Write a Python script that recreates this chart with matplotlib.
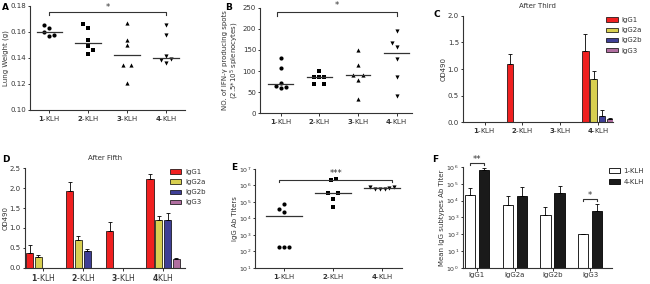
import matplotlib.pyplot as plt
import numpy as np

plt.rcParams['font.family'] = ['DejaVu Sans']
plt.rcParams['font.size'] = 5
plt.rcParams['text.color'] = '#333333'
plt.rcParams['axes.labelcolor'] = '#333333'
plt.rcParams['xtick.color'] = '#333333'
plt.rcParams['ytick.color'] = '#333333'
plt.rcParams['axes.edgecolor'] = '#333333'
plt.rcParams['axes.linewidth'] = 0.8

# data
groups4 = ['1', '2', '3', '4']
groups3 = ['1', '2', '4']
lung = [
    [0.165, 0.163, 0.160, 0.157, 0.158],
    [0.166, 0.163, 0.154, 0.149, 0.146, 0.143],
    [0.167, 0.154, 0.150, 0.1346, 0.1346, 0.1205],
    [0.165, 0.158, 0.1415, 0.1385, 0.139, 0.1364],
]
spots = [
    [132, 106, 72, 64, 60, 61],
    [101, 85, 85, 85, 70, 70],
    [150, 114, 89.5, 89.5, 78, 34],
    [194, 166, 158, 128, 86, 41],
]
subtypes = ['IgG1', 'IgG2a', 'IgG2b', 'IgG3']
third_mean = [[0, 1.10, 0, 1.33], [0, 0, 0, 0.81], [0, 0, 0, 0.12], [0, 0, 0, 0.05]]
third_err = [[0, 0.19, 0, 0.32], [0, 0, 0, 0.16], [0, 0, 0, 0.10], [0, 0, 0, 0.03]]
fifth_mean = [[0.37, 1.93, 0.92, 2.22], [0.28, 0.71, 0, 1.20],
              [0, 0.42, 0, 1.21], [0, 0, 0, 0.22]]
fifth_err = [[0.19, 0.21, 0.22, 0.13], [0.04, 0.10, 0, 0.09],
             [0, 0.06, 0, 0.17], [0, 0, 0, 0.02]]
titer_log = [
    [4.87, 4.58, 4.41, 2.26, 2.26, 2.26],
    [6.34, 6.38, 5.55, 5.55, 5.18, 4.68],
    [5.90, 5.76, 5.76, 5.80, 5.85, 5.92],
]
titer_line_log = [4.12, 5.55, 5.86]
f_groups = ['1-KLH', '4-KLH']
f_mean_log = [[4.34, 3.74, 3.13, 2.0], [5.81, 4.30, 4.45, 3.40]]
f_top_log = [[4.75, 4.26, 3.62, 2.0], [5.92, 4.81, 4.87, 3.77]]

# jitter for dot plots
jit_a = [[-0.13, 0, -0.13, 0, 0.13], [-0.13, 0, 0, 0, 0.13, 0],
         [0, 0, 0, -0.1, 0.1, 0], [0, 0, 0, -0.13, 0.13, 0]]
jit_b = [[0, 0, 0, -0.13, 0, 0.13], [0, -0.13, 0, 0.13, -0.13, 0.13],
         [0, 0, -0.13, 0.13, 0, 0], [0, -0.13, 0, 0, 0, 0]]
jit_e = [[0, -0.11, 0, -0.11, 0, 0.1], [-0.05, 0.05, -0.1, 0.1, 0, 0],
         [-0.25, -0.15, -0.05, 0.05, 0.15, 0.25]]
markers = ['o', 's', '^', 'v']
bar_colors = ['#f02020', '#d8cf50', '#3f3f96', '#b06ea0']


def kl_labels(ax, labs):
    ax.set_xticklabels([r'$\mathbf{%s}$-KLH' % l for l in labs], fontsize=5.5)


def style(ax):
    for s in ['top', 'right']:
        ax.spines[s].set_visible(False)
    ax.tick_params(length=1.8, width=0.7, pad=1, labelsize=5)


def bracket(ax, x0, x1, y, h, txt, ty):
    ax.plot([x0, x0, x1, x1], [y - h, y, y, y - h], color='#333333', lw=0.8, clip_on=False)
    ax.text((x0 + x1) / 2, ty, txt, ha='center', va='center', fontsize=6, clip_on=False)


fig = plt.figure(figsize=(6.5, 2.84), dpi=100)

# A
ax = fig.add_axes([0.046, 0.613, 0.239, 0.366])
for i, vals in enumerate(lung):
    x = i + 1 + np.array(jit_a[i])
    ax.scatter(x, vals, marker=markers[i], s=9, color='black', lw=0)
    ax.plot([i + 1 - 0.33, i + 1 + 0.33], [np.median(vals)] * 2, color='#333333', lw=0.9)
ax.set_xlim(0.5, 4.5)
ax.set_ylim(0.10, 0.18)
ax.set_yticks([0.10, 0.12, 0.14, 0.16, 0.18])
ax.set_xticks(range(1, 5))
kl_labels(ax, groups4)
ax.set_ylabel('Lung Weight (g)', fontsize=5, labelpad=1)
style(ax)
bracket(ax, 1, 4, 0.1752, 0.002, '*', 0.1785)

# B
ax = fig.add_axes([0.400, 0.602, 0.234, 0.370])
for i, vals in enumerate(spots):
    x = i + 1 + np.array(jit_b[i])
    ax.scatter(x, vals, marker=markers[i], s=9, color='black', lw=0)
    ax.plot([i + 1 - 0.32, i + 1 + 0.32], [np.median(vals)] * 2, color='#333333', lw=0.9)
ax.set_xlim(0.46, 4.4)
ax.set_ylim(0, 250)
ax.set_yticks(range(0, 251, 50))
ax.set_xticks(range(1, 5))
kl_labels(ax, groups4)
ax.set_ylabel('NO. of IFN-\u03b3 producing spots\n(2.5*10$^5$ splenocytes)', fontsize=5,
              labelpad=1, linespacing=1.1)
style(ax)
bracket(ax, 0.9, 4, 240, 8, '*', 257)


def od_panel(rect, means, errs, title):
    ax = fig.add_axes(rect)
    xs = np.arange(1, 5)
    w, sp = 0.18, 0.22
    handles = []
    for k in range(4):
        pos = xs + (k - 1.5) * sp
        m = np.array(means[k])
        e = np.array(errs[k])
        b = ax.bar(pos, m, width=w, color=bar_colors[k], edgecolor='black', lw=0.5,
                   label=subtypes[k])
        mask = m > 0
        ax.errorbar(pos[mask], m[mask], yerr=[np.zeros(mask.sum()), e[mask]], fmt='none',
                    ecolor='black', elinewidth=0.6, capsize=1.5, capthick=0.6)
        handles.append(b)
    ax.set_xticks(xs)
    kl_labels(ax, groups4)
    ax.set_ylabel('OD490', fontsize=5, labelpad=1)
    ax.set_title(title, fontsize=5)
    style(ax)
    return ax, handles


leg_kw = dict(loc='upper left', frameon=False, fontsize=5, handlelength=1.6,
              handleheight=0.6, labelspacing=0.6, handletextpad=0.5, borderpad=0,
              borderaxespad=0)

# C
ax, h = od_panel([0.712, 0.570, 0.231, 0.374], third_mean, third_err, 'After Third')
ax.set_xlim(0.42, 4.4)
ax.set_ylim(0, 2.0)
ax.set_yticks([0, 0.5, 1.0, 1.5, 2.0])
ax.title.set_y(1.07)
fig.legend(handles=h, bbox_to_anchor=(0.933, 0.94), **leg_kw)

# D
ax, h = od_panel([0.038, 0.057, 0.247, 0.351], fifth_mean, fifth_err, 'After Fifth')
ax.set_xlim(0.55, 4.55)
ax.set_ylim(0, 2.5)
ax.set_yticks([0, 0.5, 1.0, 1.5, 2.0, 2.5])
ax.set_xticklabels([r'$\mathbf{1}$-KLH', r'$\mathbf{2}$-KLH', r'$\mathbf{3}$-KLH',
                    r'$\mathbf{4}$KLH'], fontsize=5.5)
ax.title.set_y(1.06)
fig.legend(handles=h, bbox_to_anchor=(0.262, 0.405), **leg_kw)

# E
ax = fig.add_axes([0.393, 0.057, 0.225, 0.348])
for i, vals in enumerate(titer_log):
    x = i + 1 + np.array(jit_e[i])
    mk = markers[0] if i == 0 else markers[1] if i == 1 else markers[3]
    ax.scatter(x, 10 ** np.array(vals), marker=mk, s=9, color='black', lw=0)
    ax.plot([i + 1 - 0.37, i + 1 + 0.37], [10 ** titer_line_log[i]] * 2, color='#333333', lw=0.9)
ax.set_yscale('log')
ax.set_ylim(10, 1e7)
ax.set_xlim(0.41, 3.4)
ax.set_xticks([1, 2, 3])
kl_labels(ax, groups3)
ax.minorticks_off()
ax.set_yticks([10 ** k for k in range(1, 8)])
ax.set_ylabel('IgG Ab Titers', fontsize=5, labelpad=1)
style(ax)
ax.tick_params(axis='y', labelsize=4.5)
bracket(ax, 0.9, 3.2, 10 ** 6.34, 10 ** 6.34 - 10 ** 6.2, '***', 10 ** 6.7)

# F
ax = fig.add_axes([0.712, 0.057, 0.230, 0.355])
xs = np.arange(1, 5)
fcol = ['white', '#1a1a1a']
fh = []
for j in range(2):
    pos = xs + (j - 0.5) * 0.37
    m = 10 ** np.array(f_mean_log[j])
    t = 10 ** np.array(f_top_log[j])
    b = ax.bar(pos, m, width=0.27, color=fcol[j], edgecolor='black', lw=0.6,
               label=f_groups[j])
    ax.errorbar(pos, m, yerr=[np.zeros(4), t - m], fmt='none', ecolor='black',
                elinewidth=0.6, capsize=1.5, capthick=0.6)
    fh.append(b)
ax.set_yscale('log')
ax.set_ylim(1, 1e6)
ax.set_xlim(0.63, 4.58)
ax.set_xticks(xs)
ax.set_xticklabels(subtypes, fontsize=5)
ax.minorticks_off()
ax.set_yticks([10 ** k for k in range(0, 7)])
ax.set_ylabel('Mean IgG subtypes Ab Titer', fontsize=5, labelpad=1)
style(ax)
ax.tick_params(axis='y', labelsize=4.5)
bracket(ax, 1 - 0.185, 1 + 0.185, 10 ** 6.22, 10 ** 6.22 - 10 ** 6.1, '**', 10 ** 6.42)
bracket(ax, 4 - 0.185, 4 + 0.185, 10 ** 4.08, 10 ** 4.08 - 10 ** 3.96, '*', 10 ** 4.28)
leg_f = dict(leg_kw)
leg_f.update(handleheight=0.8, labelspacing=0.8)
fig.legend(handles=fh, bbox_to_anchor=(0.937, 0.41), **leg_f)

# panel letters
for lab, x, y in [('A', 0.003, 0.99), ('B', 0.347, 0.99), ('C', 0.667, 0.965),
                  ('D', 0.003, 0.455), ('E', 0.355, 0.425), ('F', 0.665, 0.455)]:
    fig.text(x, y, lab, fontsize=6.5, fontweight='bold', va='top', color='black')

fig.savefig('out.png', dpi=100)
